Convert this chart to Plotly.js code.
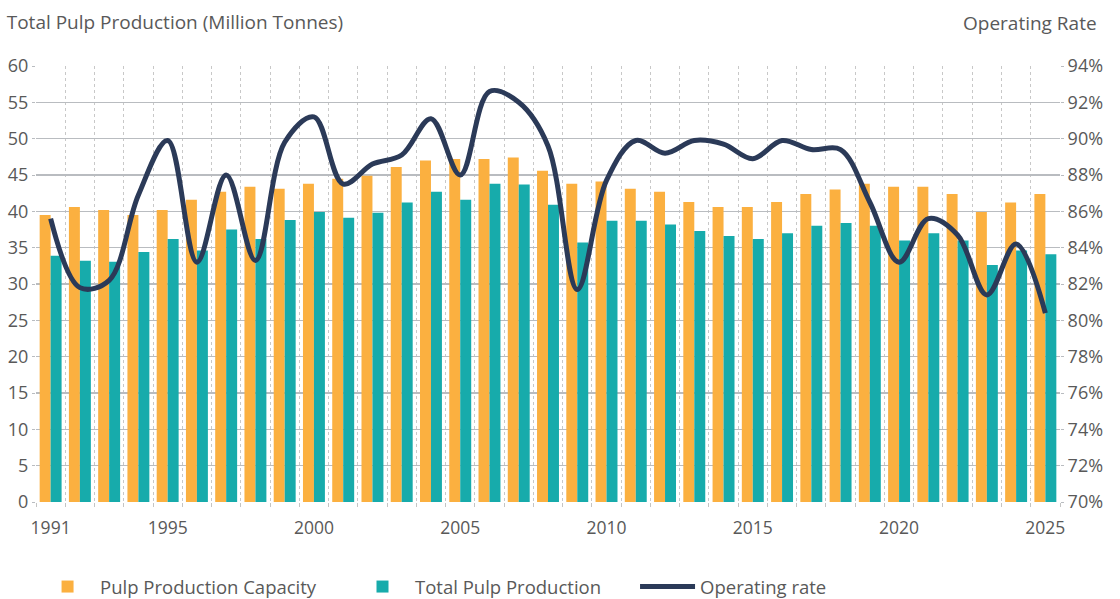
<!DOCTYPE html>
<html>
<head>
<meta charset="utf-8">
<script src="https://cdn.plot.ly/plotly-3.0.1.min.js"></script>
<style>html,body{margin:0;padding:0;background:#fff;}#chart{width:1120px;height:599px;}</style>
</head>
<body>
<div id="chart"></div>
<script>
const years = [1991,1992,1993,1994,1995,1996,1997,1998,1999,2000,2001,2002,2003,2004,2005,2006,2007,2008,2009,2010,2011,2012,2013,2014,2015,2016,2017,2018,2019,2020,2021,2022,2023,2024,2025];
const capacity = [39.5,40.6,40.2,39.5,40.2,41.6,42.7,43.4,43.1,43.8,44.5,44.9,46.1,47.0,47.2,47.2,47.4,45.6,43.8,44.1,43.1,42.7,41.3,40.6,40.6,41.3,42.4,43.0,43.8,43.4,43.4,42.4,39.9,41.2,42.4];
const production = [33.9,33.2,33.05,34.4,36.2,34.6,37.5,36.2,38.8,39.9,39.1,39.8,41.2,42.7,41.6,43.8,43.7,40.9,35.7,38.7,38.7,38.2,37.3,36.6,36.2,37.0,38.0,38.4,38.0,36.0,37.0,36.0,32.6,34.6,34.1];
const operatingRate = [85.6,81.8,82.2,86.9,89.9,83.2,88.0,83.3,89.8,91.2,87.5,88.6,89.1,91.1,88.0,92.6,92.0,89.6,81.7,87.7,89.9,89.2,89.9,89.7,88.9,89.9,89.4,89.4,86.5,83.2,85.6,84.7,81.4,84.2,80.4];
const xTickYears = [1991,1995,2000,2005,2010,2015,2020,2025];

const textColor = '#595959';
const fontFam = '"Open Sans", Lato, sans-serif';

const traces = [
  {type:'bar', name:'Pulp Production Capacity', x:years, y:capacity, legend:'legend',
   marker:{color:'#FBB040'}, hoverinfo:'skip'},
  {type:'bar', name:'Total Pulp Production', x:years, y:production, legend:'legend2',
   marker:{color:'#17ABAB'}, hoverinfo:'skip'},
  {type:'scatter', mode:'lines', name:'Operating rate', x:years, y:operatingRate, yaxis:'y2', legend:'legend3',
   line:{color:'#2B3A58', width:5, shape:'spline', smoothing:1}, hoverinfo:'skip'}
];

function legendAt(x) {
  return {orientation:'h', xref:'container', yref:'container', x:x, y:0.02, xanchor:'left', yanchor:'middle',
          font:{family:fontFam, size:18.5, color:textColor}, itemwidth:55, bgcolor:'rgba(0,0,0,0)'};
}

const layout = {
  width:1120, height:599,
  margin:{l:36, r:60, t:66, b:97},
  paper_bgcolor:'#fff', plot_bgcolor:'#fff',
  font:{family:fontFam, color:textColor, size:17},
  barmode:'group', bargap:0.25, bargroupgap:0,
  showlegend:true,
  title:{text:'Total Pulp Production (Million Tonnes)', x:0.006, xanchor:'left', y:0.962, yanchor:'middle', xref:'container', yref:'container',
         font:{family:fontFam, size:19, color:textColor}},
  annotations:[
    {text:'Operating Rate', xref:'paper', yref:'paper', x:1.038, y:1.0, yshift:43, xanchor:'right', yanchor:'middle', showarrow:false,
     font:{family:fontFam, size:19, color:textColor}}
  ],
  xaxis:{
    type:'linear', range:[1990.5, 2025.5], tickvals:xTickYears, ticktext:xTickYears.map(String),
    showgrid:false, zeroline:false, ticks:'', ticklabelstandoff:13,
    tickfont:{size:17.5, color:textColor},
    minor:{tick0:1990.5, dtick:1, showgrid:true, griddash:'3px,3px', gridcolor:'#c8c8c8', gridwidth:1,
           ticks:'outside', ticklen:4, tickcolor:'#c4c4c4'}
  },
  yaxis:{
    range:[0,60], dtick:5, tick0:0, showgrid:true, gridcolor:'#b9bcc0', gridwidth:1.5, zeroline:false,
    ticks:'outside', ticklen:3, tickcolor:'#b9bcc0', tickfont:{size:18, color:textColor}
  },
  yaxis2:{
    overlaying:'y', side:'right', range:[70,94], dtick:2, tick0:70, ticksuffix:'%',
    showgrid:false, zeroline:false, ticks:'outside', ticklen:3, tickcolor:'#b9bcc0',
    tickfont:{size:18, color:textColor}
  },
  legend:legendAt(0.0313),
  legend2:legendAt(0.3125),
  legend3:legendAt(0.567)
};

Plotly.newPlot('chart', traces, layout, {staticPlot:true, displayModeBar:false});
</script>
</body>
</html>
